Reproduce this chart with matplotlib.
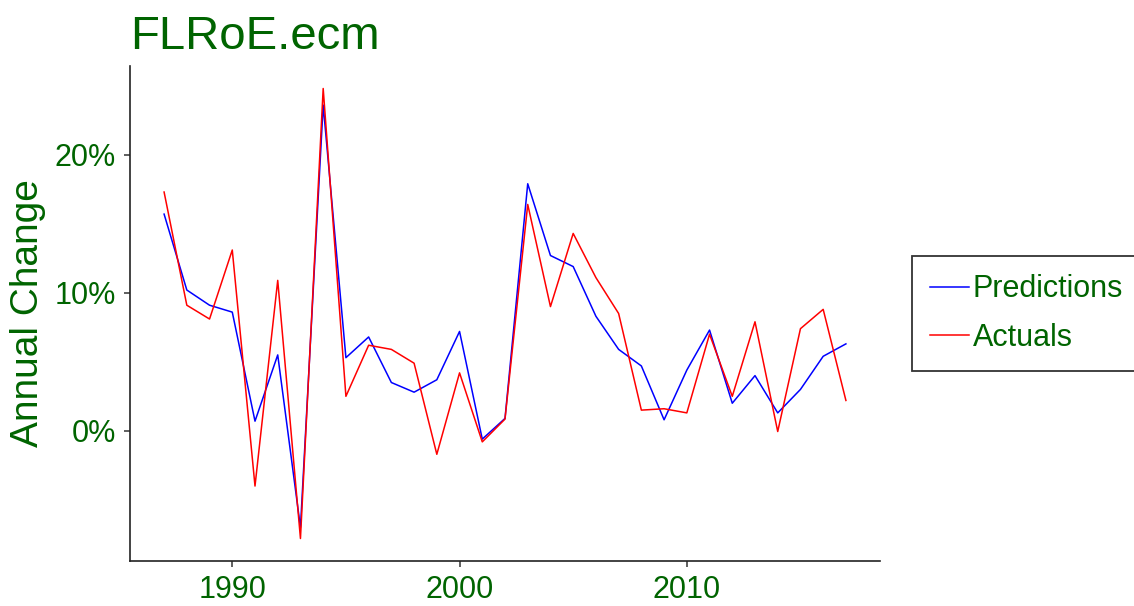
import matplotlib
matplotlib.use("Agg")
import matplotlib.pyplot as plt
import numpy as np

# annual change in %
years = list(range(1987, 2018))
predictions = [15.7, 10.2, 9.1, 8.6, 0.7, 5.5, -7.0, 23.6, 5.3, 6.8,
               3.5, 2.8, 3.7, 7.2, -0.6, 0.9, 17.9, 12.7, 11.9, 8.3,
               5.9, 4.7, 0.8, 4.4, 7.3, 2.0, 4.0, 1.3, 3.0, 5.4, 6.3]
actuals = [17.3, 9.1, 8.1, 13.1, -4.0, 10.9, -7.8, 24.8, 2.5, 6.2,
           5.9, 4.9, -1.7, 4.2, -0.8, 0.85, 16.4, 9.0, 14.3, 11.1,
           8.5, 1.5, 1.6, 1.3, 7.0, 2.5, 7.9, -0.05, 7.4, 8.8, 2.2]
xticks = [1990, 2000, 2010]
yticks = [0, 10, 20]
ytick_labels = ["0%", "10%", "20%"]

plt.rcParams['font.family'] = ['Liberation Sans', 'DejaVu Sans']
green = "#006400"

fig = plt.figure(figsize=(11.34, 6.06), dpi=100)
ax = fig.add_axes([130/1134, 45/606, 750/1134, 495/606])

ax.plot(years, predictions, color="blue", lw=1.1, label="Predictions")
ax.plot(years, actuals, color="red", lw=1.1, label="Actuals")

allv = np.array(predictions + actuals)
lo, hi = allv.min(), allv.max()
pad = (hi - lo) * 0.05
ax.set_ylim(lo - pad, hi + pad)
ax.set_xlim(1987 - 1.5, 2017 + 1.5)

ax.set_xticks(xticks)
ax.set_yticks(yticks)
ax.set_yticklabels(ytick_labels)
ax.tick_params(axis="both", labelsize=22, labelcolor=green, color="#333333",
               length=4, width=1.1, pad=6)

for s in ["top", "right"]:
    ax.spines[s].set_visible(False)
for s in ["left", "bottom"]:
    ax.spines[s].set_color("#222222")
    ax.spines[s].set_linewidth(1.2)

ax.set_ylabel("Annual Change", fontsize=28, color=green, labelpad=6)
ax.set_title("FLRoE.ecm", loc="left", fontsize=34, color=green, pad=12)

leg = fig.legend(loc="upper left", bbox_to_anchor=(912/1134, 1 - 256/606),
                 fontsize=22, frameon=True, fancybox=False,
                 handlelength=1.25, handletextpad=0.13, labelspacing=0.6,
                 borderpad=0.6, borderaxespad=0)
leg.get_frame().set_edgecolor("black")
leg.get_frame().set_linewidth(1.3)
for t in leg.get_texts():
    t.set_color(green)

plt.savefig("out.png", dpi=100)
